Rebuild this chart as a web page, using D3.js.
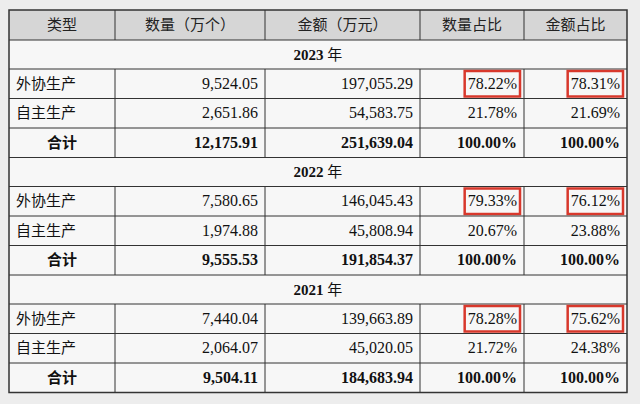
<!DOCTYPE html>
<html><head><meta charset="utf-8">
<script src="https://cdn.jsdelivr.net/npm/d3@7"></script>
<style>body{margin:0;background:#ededed}</style>
</head><body>
<svg id="c" width="640" height="404"></svg>
<script>
const headers = ['类型', '数量（万个）', '金额（万元）', '数量占比', '金额占比']
const years = ['2023 年', '2022 年', '2021 年']
const types = ['外协生产', '自主生产', '合计']
const qty = [[9524.05, 2651.86, 12175.91], [7580.65, 1974.88, 9555.53], [7440.04, 2064.07, 9504.11]]
const amt = [[197055.29, 54583.75, 251639.04], [146045.43, 45808.94, 191854.37], [139663.89, 45020.05, 184683.94]]
const qtyPct = [[78.22, 21.78, 100], [79.33, 20.67, 100], [78.28, 21.72, 100]]
const amtPct = [[78.31, 21.69, 100], [76.12, 23.88, 100], [75.62, 24.38, 100]]

const svg = d3.select('#c')
const colX = [9, 115, 265, 420, 524, 627]
const cjk = '"Noto Sans CJK SC", sans-serif'
const serif = '"Liberation Serif", "DejaVu Serif", serif'
const numFmt = d3.format(',.2f')

// row layout: header + per year (title row + 3 data rows)
const rows = [{ kind: 'header', h: 30 }]
years.forEach((y, yi) => {
  rows.push({ kind: 'year', h: 29, label: y })
  types.forEach((t, ti) => rows.push({ kind: 'data', h: 29.5, yi, ti }))
})
let y0 = 10
rows.forEach(r => { r.y = y0; y0 += r.h })
const yEnd = y0

svg.append('rect').attr('x', colX[0]).attr('y', 10).attr('width', colX[5] - colX[0]).attr('height', yEnd - 10)
  .attr('fill', '#f7f7f7')
svg.append('rect').attr('x', colX[0]).attr('y', 10).attr('width', colX[5] - colX[0]).attr('height', rows[0].h)
  .attr('fill', '#d6d6d6')

const line = (x1, y1, x2, y2, w) => svg.append('line').attr('x1', x1).attr('y1', y1).attr('x2', x2).attr('y2', y2)
  .attr('stroke', '#333').attr('stroke-width', w || 1)

rows.forEach(r => {
  const cy = r.y + r.h / 2 + 5
  if (r.kind === 'header') {
    headers.forEach((h, i) => svg.append('text').attr('x', (colX[i] + colX[i + 1]) / 2).attr('y', cy)
      .attr('text-anchor', 'middle').attr('font-family', cjk).attr('font-size', 15).attr('fill', '#222').text(h))
    colX.slice(1, 5).forEach(x => line(x, r.y, x, r.y + r.h))
  } else if (r.kind === 'year') {
    const t = svg.append('text').attr('x', (colX[0] + colX[5]) / 2).attr('y', cy).attr('text-anchor', 'middle')
      .attr('font-weight', 'bold').attr('font-size', 15).attr('fill', '#111')
    t.append('tspan').attr('font-family', serif).text(r.label.split(' ')[0] + ' ')
    t.append('tspan').attr('font-family', cjk).attr('font-weight', 'normal').text(r.label.split(' ')[1])
  } else {
    const bold = r.ti === 2
    colX.slice(1, 5).forEach(x => line(x, r.y, x, r.y + r.h))
    svg.append('text').attr('x', bold ? (colX[0] + colX[1]) / 2 : colX[0] + 7).attr('y', cy)
      .attr('text-anchor', bold ? 'middle' : 'start').attr('font-family', cjk).attr('font-size', 15)
      .attr('font-weight', bold ? 'bold' : 'normal').attr('fill', '#111').text(types[r.ti])
    const vals = [numFmt(qty[r.yi][r.ti]), numFmt(amt[r.yi][r.ti]),
      qtyPct[r.yi][r.ti].toFixed(2) + '%', amtPct[r.yi][r.ti].toFixed(2) + '%']
    vals.forEach((v, i) => {
      const tx = svg.append('text').attr('x', colX[i + 2] - 7).attr('y', cy).attr('text-anchor', 'end')
        .attr('font-family', serif).attr('font-size', 16).attr('font-weight', bold ? 'bold' : 'normal')
        .attr('fill', '#111').text(v)
      if (r.ti === 0 && i >= 2) {
        const bb = tx.node().getBBox()
        svg.append('rect').attr('x', bb.x - 3).attr('y', r.y + 2).attr('width', bb.width + 6).attr('height', r.h - 4)
          .attr('fill', 'none').attr('stroke', '#d8382c').attr('stroke-width', 2.5)
      }
    })
  }
  line(colX[0], r.y + r.h, colX[5], r.y + r.h)
})
svg.append('rect').attr('x', colX[0]).attr('y', 10).attr('width', colX[5] - colX[0]).attr('height', yEnd - 10)
  .attr('fill', 'none').attr('stroke', '#333').attr('stroke-width', 1.5)
</script>
</body></html>
